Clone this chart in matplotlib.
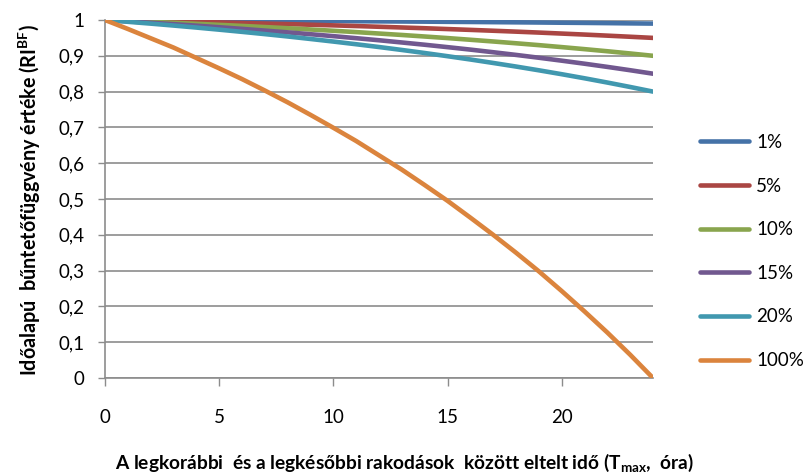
import matplotlib
matplotlib.use('Agg')
import matplotlib.pyplot as plt

plt.rcParams['font.family'] = ['Lato', 'DejaVu Sans']
plt.rcParams['mathtext.fontset'] = 'custom'
plt.rcParams['mathtext.rm'] = 'Lato'
plt.rcParams['mathtext.bf'] = 'Lato:bold'

# elapsed time (hours)
hours = list(range(25))

# RI^BF values, one list per series
s1 = [1, .9998, .9995, .9992, .9989, .9987, .9983, .998, .9977, .9974, .997, .9966, .9962,
      .9958, .9954, .9949, .9945, .994, .9935, .993, .9924, .9919, .9913, .9906, .99]
s5 = [1, .9988, .9975, .9961, .9947, .9933, .9917, .9901, .9885, .9868, .985, .9831, .9811,
      .9791, .977, .9747, .9724, .97, .9675, .9649, .9621, .9593, .9563, .9532, .95]
s10 = [1, .9975, .9949, .9923, .9894, .9865, .9835, .9803, .977, .9735, .9699, .9662, .9622,
       .9582, .9539, .9495, .9448, .94, .935, .9298, .9243, .9186, .9127, .9065, .90]
s15 = [1, .9963, .9924, .9884, .9842, .9798, .9752, .9704, .9655, .9603, .9549, .9492, .9434,
       .9372, .9309, .9242, .9173, .91, .9025, .8946, .8864, .8779, .869, .8597, .85]
s20 = [1, .995, .9899, .9845, .9789, .973, .9669, .9606, .954, .947, .9398, .9323, .9245,
       .9163, .9078, .8989, .8897, .88, .87, .8595, .8486, .8372, .8253, .8129, .80]
s100 = [1, .975, .949, .923, .894, .865, .835, .803, .770, .735, .699, .662, .622,
        .582, .539, .495, .448, .400, .350, .298, .243, .186, .127, .065, 0]

series = [s1, s5, s10, s15, s20, s100]
labels = ['1%', '5%', '10%', '15%', '20%', '100%']
colors = ['#4572A7', '#AA4643', '#89A54E', '#71588F', '#4198AF', '#DB843D']

fig = plt.figure(figsize=(8.08, 4.75), dpi=100)
ax = fig.add_axes([105/808, 1-378/475, (653-105)/808, (378-20)/475])

for y, lab, c in zip(series, labels, colors):
    ax.plot(hours, y, color=c, lw=3.3, label=lab, solid_capstyle='round', zorder=3)

ax.set_xlim(0, 24)
ax.set_ylim(0, 1)
ax.set_xticks([0, 5, 10, 15, 20])
ax.set_yticks([i/10 for i in range(11)])
ax.set_yticklabels(['0'] + ['0,%d' % i for i in range(1, 10)] + ['1'])
ax.yaxis.grid(True, color='#8c8c8c', lw=1.2)
ax.set_axisbelow(True)
for s in ['top', 'right']:
    ax.spines[s].set_visible(False)
for s in ['left', 'bottom']:
    ax.spines[s].set_color('#8c8c8c')
    ax.spines[s].set_linewidth(1.2)
ax.tick_params(axis='y', length=5, width=1, color='#8c8c8c', pad=10, labelsize=13.5)
ax.tick_params(axis='x', length=6, width=1, color='#8c8c8c', pad=16, labelsize=13.5)

fig.text(30/808, 1-200/475, 'Időalapú  bűntetőfüggvény értéke (RI$^{\\mathbf{BF}}$)',
         rotation=90, ha='center', va='center', fontsize=14.2, fontweight='bold')
fig.text(404/808, 1-463/475,
         'A legkorábbi  és a legkésőbbi rakodások  között eltelt idő (T$_{\\mathbf{max}}$,  óra)',
         ha='center', va='center', fontsize=13.8, fontweight='bold')

ax.legend(loc='upper left', bbox_to_anchor=(700/808, 1-134/475), bbox_transform=fig.transFigure,
          frameon=False, fontsize=13.5, handlelength=2.6, handletextpad=0.4,
          labelspacing=1.42, borderpad=0, borderaxespad=0)

fig.savefig('out.png', dpi=100)
